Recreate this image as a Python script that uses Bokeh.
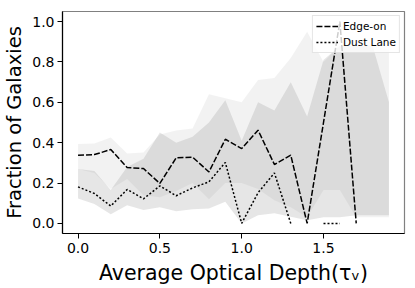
import math
from bokeh.plotting import figure
from bokeh.models import ColumnDataSource, Legend, LegendItem, PrintfTickFormatter, FixedTicker, Range1d
from bokeh.embed import file_html
from bokeh.resources import INLINE

nan = float("nan")

tau = [0.0, 0.1, 0.2, 0.3, 0.4, 0.5, 0.6, 0.7, 0.8, 0.9,
       1.0, 1.1, 1.2, 1.3, 1.4, 1.5, 1.6, 1.7, 1.8, 1.9]
edge_on = [0.338, 0.341, 0.366, 0.277, 0.272, 0.198, 0.325, 0.328, 0.255, 0.417,
           0.371, 0.462, 0.292, 0.338, 0.0, 0.5, 1.0, 0.0, nan, nan]
dust_lane = [0.181, 0.148, 0.086, 0.168, 0.122, 0.186, 0.137, 0.176, 0.206, 0.302,
             0.0, 0.152, 0.25, 0.0, nan, 0.0, 0.0, nan, nan, nan]
edge_lo = [0.27, 0.25, 0.17, 0.22, 0.14, 0.13, 0.16, 0.20, 0.12, 0.20,
           0.20, 0.17, 0.115, 0.08, 0.03, 0.165, 0.165, 0.03, 0.03, 0.03]
edge_hi = [0.393, 0.396, 0.426, 0.347, 0.351, 0.44, 0.46, 0.47, 0.64, 0.62,
           0.60, 0.71, 0.72, 0.82, 0.95, 0.80, 0.88, 0.88, 0.88, 0.86]
dust_lo = [0.124, 0.096, 0.046, 0.09, 0.066, 0.08, 0.06, 0.07, 0.074, 0.107,
           0.0, 0.04, 0.05, 0.033, 0.016, 0.03, 0.03, 0.04, 0.04, 0.04]
dust_hi = [0.27, 0.26, 0.165, 0.28, 0.32, 0.45, 0.40, 0.43, 0.50, 0.61,
           0.41, 0.60, 0.56, 0.70, 0.53, 0.81, 0.88, 0.88, 0.88, 0.60]

x_ticks = [0.0, 0.5, 1.0, 1.5]
y_ticks = [0.0, 0.2, 0.4, 0.6, 0.8, 1.0]

src = ColumnDataSource(dict(tau=tau, edge=edge_on, dust=dust_lane,
                            elo=edge_lo, ehi=edge_hi, dlo=dust_lo, dhi=dust_hi))

p = figure(output_backend="svg", toolbar_location=None,
           x_range=Range1d(-0.095, 1.995), y_range=Range1d(-0.05, 1.05),
           frame_width=342, frame_height=222,
           min_border_left=61, min_border_right=10, min_border_top=11, min_border_bottom=54)
p.background_fill_color = "white"
p.border_fill_color = "white"
p.outline_line_color = "#808080"
p.outline_line_width = 1.2
p.xgrid.visible = False
p.ygrid.visible = False

p.varea(x="tau", y1="elo", y2="ehi", source=src, fill_color="gray", fill_alpha=0.1)
p.varea(x="tau", y1="dlo", y2="dhi", source=src, fill_color="gray", fill_alpha=0.2)
r1 = p.line(x="tau", y="edge", source=src, line_color="black", line_width=1.5, line_dash="6 2")
r2 = p.line(x="tau", y="dust", source=src, line_color="black", line_width=1.5, line_dash="2 2")

for ax in (p.xaxis[0], p.yaxis[0]):
    ax.axis_line_color = "black"
    ax.axis_line_width = 1.2
    ax.major_tick_line_color = "black"
    ax.major_tick_out = 5
    ax.major_tick_in = 0
    ax.minor_tick_line_color = None
    ax.major_label_text_font = "DejaVu Sans"
    ax.major_label_text_font_size = "14px"
    ax.major_label_text_color = "black"
    ax.axis_label_text_font = "DejaVu Sans"
    ax.axis_label_text_font_style = "normal"
    ax.axis_label_text_color = "black"
    ax.formatter = PrintfTickFormatter(format="%.1f")

p.xaxis[0].axis_label_text_font_size = "20.5px"
p.yaxis[0].axis_label_text_font_size = "19.5px"
p.xaxis[0].ticker = FixedTicker(ticks=x_ticks)
p.yaxis[0].ticker = FixedTicker(ticks=y_ticks)
p.xaxis[0].axis_label = "Average Optical Depth(τᵥ)"
p.yaxis[0].axis_label = "Fraction of Galaxies"
p.xaxis[0].major_label_standoff = 4
p.yaxis[0].major_label_standoff = 3
p.xaxis[0].axis_label_standoff = 5
p.yaxis[0].axis_label_standoff = 3

legend = Legend(items=[LegendItem(label="Edge-on", renderers=[r1]),
                       LegendItem(label="Dust Lane", renderers=[r2])],
                location="top_right")
legend.label_text_font = "DejaVu Sans"
legend.label_text_font_size = "10.5px"
legend.label_text_color = "black"
legend.label_height = 14
legend.glyph_height = 14
legend.glyph_width = 22
legend.spacing = 2
legend.padding = 3
legend.margin = 4
legend.label_standoff = 5
legend.border_line_color = "#cccccc"
legend.border_line_width = 1
legend.background_fill_alpha = 0.8
p.add_layout(legend)

open("out.html", "w").write(file_html(p, INLINE))
